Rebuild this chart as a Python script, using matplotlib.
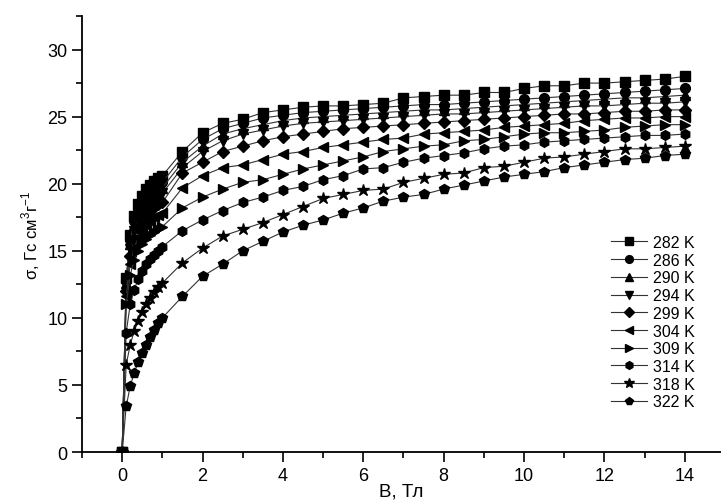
import matplotlib
matplotlib.use("Agg")
import matplotlib.pyplot as plt
from matplotlib.ticker import MultipleLocator

plt.rcParams['font.family'] = ['Liberation Sans', 'DejaVu Sans']
plt.rcParams['mathtext.fontset'] = 'custom'
plt.rcParams['mathtext.rm'] = 'Liberation Sans'

# field, T
field = [0, 0.1, 0.2, 0.3, 0.4, 0.5, 0.6, 0.7, 0.8, 0.9, 1.0,
         1.5, 2.0, 2.5, 3.0, 3.5, 4.0, 4.5, 5.0, 5.5, 6.0, 6.5, 7.0, 7.5,
         8.0, 8.5, 9.0, 9.5, 10.0, 10.5, 11.0, 11.5, 12.0, 12.5, 13.0,
         13.5, 14.0]

temps = ['282 K', '286 K', '290 K', '294 K', '299 K',
         '304 K', '309 K', '314 K', '318 K', '322 K']
markers = ['s', 'o', '^', 'v', 'D', '<', '>', 'h', '*', 'p']

s282 = [0, 13.0, 16.2, 17.6, 18.5, 19.1, 19.6, 19.9, 20.2, 20.4, 20.6,
        22.4, 23.8, 24.5, 24.8, 25.3, 25.5, 25.7, 25.8, 25.8, 25.9, 26.0,
        26.4, 26.5, 26.6, 26.6, 26.8, 26.8, 27.1, 27.3, 27.3, 27.5, 27.5,
        27.6, 27.7, 27.8, 28.0]
s286 = [0, 12.8, 15.8, 17.2, 18.1, 18.7, 19.1, 19.5, 19.7, 19.9, 20.1,
        22.0, 23.3, 24.1, 24.5, 24.9, 25.1, 25.3, 25.4, 25.5, 25.6, 25.7,
        25.8, 25.9, 25.9, 26.0, 26.1, 26.2, 26.3, 26.4, 26.5, 26.6, 26.7,
        26.8, 26.9, 27.0, 27.1]
s290 = [0, 12.6, 15.5, 16.9, 17.7, 18.3, 18.7, 19.1, 19.3, 19.5, 19.7,
        21.6, 22.8, 23.7, 24.1, 24.4, 24.7, 24.9, 25.0, 25.1, 25.2, 25.3,
        25.4, 25.5, 25.5, 25.6, 25.7, 25.8, 25.9, 26.0, 26.1, 26.2, 26.3,
        26.4, 26.4, 26.5, 26.6]
s294 = [0, 12.4, 15.1, 16.5, 17.3, 17.9, 18.3, 18.7, 18.9, 19.1, 19.3,
        21.2, 22.4, 23.2, 23.7, 24.0, 24.3, 24.5, 24.6, 24.7, 24.8, 24.9,
        25.0, 25.1, 25.2, 25.2, 25.3, 25.4, 25.5, 25.6, 25.7, 25.8, 25.8,
        25.9, 26.0, 26.0, 26.1]
s299 = [0, 12.0, 14.6, 15.9, 16.7, 17.3, 17.7, 18.0, 18.3, 18.5, 18.6,
        20.8, 21.6, 22.4, 22.8, 23.2, 23.5, 23.7, 23.9, 24.1, 24.2, 24.3,
        24.4, 24.5, 24.6, 24.7, 24.8, 24.9, 25.0, 25.1, 25.2, 25.2, 25.3,
        25.4, 25.4, 25.5, 25.5]
s304 = [0, 11.6, 14.0, 15.2, 16.0, 16.5, 16.9, 17.2, 17.5, 17.7, 17.8,
        19.7, 20.6, 21.2, 21.4, 21.8, 22.2, 22.4, 22.7, 22.9, 23.1, 23.3,
        23.4, 23.7, 23.8, 23.9, 24.0, 24.2, 24.3, 24.4, 24.5, 24.7, 24.8,
        24.9, 24.9, 25.0, 25.0]
s309 = [0, 11.0, 13.2, 14.3, 15.0, 15.5, 15.9, 16.2, 16.4, 16.6, 16.8,
        18.2, 19.0, 19.6, 20.1, 20.3, 20.7, 21.1, 21.4, 21.7, 22.0, 22.4,
        22.6, 22.8, 22.9, 23.2, 23.3, 23.5, 23.7, 23.8, 23.8, 23.9, 24.0,
        24.2, 24.3, 24.4, 24.4]
s314 = [0, 8.9, 11.0, 12.1, 12.9, 13.5, 14.0, 14.4, 14.7, 15.0, 15.3,
        16.5, 17.3, 18.0, 18.6, 19.0, 19.5, 19.8, 20.3, 20.6, 21.1, 21.2,
        21.6, 21.9, 22.1, 22.3, 22.6, 22.8, 22.9, 23.1, 23.2, 23.3, 23.4,
        23.5, 23.6, 23.6, 23.7]
s318 = [0, 6.5, 8.0, 9.0, 9.8, 10.4, 11.0, 11.5, 11.9, 12.3, 12.6,
        14.1, 15.2, 16.1, 16.6, 17.1, 17.7, 18.3, 18.9, 19.2, 19.5, 19.6,
        20.1, 20.4, 20.7, 20.8, 21.2, 21.3, 21.6, 21.9, 22.0, 22.2, 22.4,
        22.6, 22.6, 22.7, 22.8]
s322 = [0, 3.4, 4.9, 5.9, 6.7, 7.4, 8.0, 8.6, 9.1, 9.6, 10.0,
        11.6, 13.1, 14.0, 15.0, 15.7, 16.4, 16.9, 17.3, 17.8, 18.2, 18.7,
        19.0, 19.2, 19.6, 19.9, 20.2, 20.5, 20.7, 20.9, 21.2, 21.4, 21.6,
        21.8, 21.9, 22.1, 22.2]

series = [s282, s286, s290, s294, s299, s304, s309, s314, s318, s322]

fig = plt.figure(figsize=(7.21, 5.02), dpi=100)
ax = fig.add_axes([0.1137, 0.0976, 0.8863, 0.8685])

for lab, m, ys in zip(temps, markers, series):
    ms = 9 if m == '*' else 7
    if m == 'D':
        ms = 6
    ax.plot(field, ys, color='#333333', lw=0.8, marker=m, ms=ms,
            mfc='black', mec='black', label=lab)

ax.set_xlim(-1, 14.9)
ax.set_ylim(0, 32.5)
ax.xaxis.set_minor_locator(MultipleLocator(1))
ax.yaxis.set_minor_locator(MultipleLocator(2.5))
ax.set_xticks(range(0, 15, 2))
ax.set_yticks(range(0, 31, 5))
ax.tick_params(direction='out', length=7, width=1.2, labelsize=13, pad=3.5)
ax.tick_params(which='minor', direction='out', length=4, width=1.2)
ax.spines['top'].set_visible(False)
ax.spines['right'].set_visible(False)
ax.spines['left'].set_linewidth(1.3)
ax.spines['bottom'].set_linewidth(1.3)

ax.set_xlabel('B, Тл', fontsize=13.5, labelpad=-1)
ax.set_ylabel('σ, Гс см$^3$г$^{-1}$', fontsize=12, labelpad=4)

leg = ax.legend(loc='upper left', bbox_to_anchor=(611 / 721, 1 - 236 / 502),
                bbox_transform=fig.transFigure, frameon=False, fontsize=11.5,
                handlelength=2.25, handletextpad=0.35, labelspacing=0.17,
                borderpad=0, borderaxespad=0, markerscale=0.8)

fig.savefig('out.png', dpi=100)
